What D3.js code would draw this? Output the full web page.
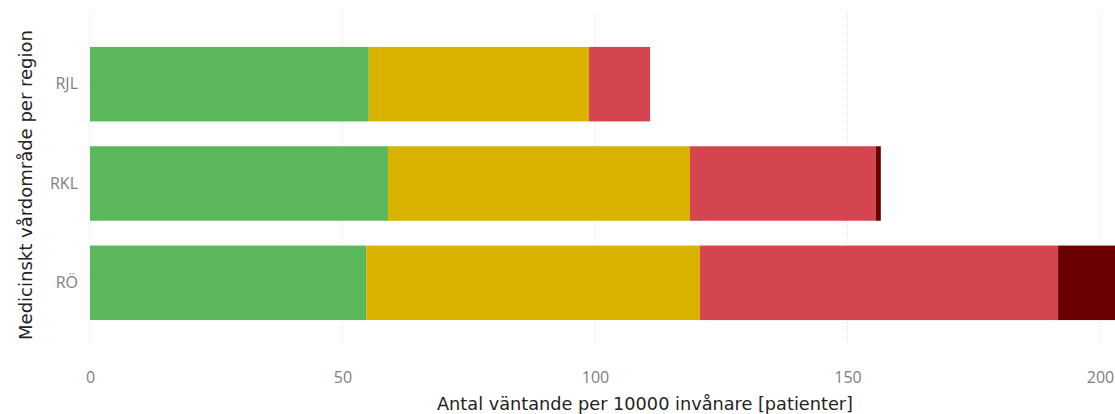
<!DOCTYPE html>
<html>
<head>
<meta charset="utf-8">
<script src="https://cdn.jsdelivr.net/npm/d3@7"></script>
<style>
  body { margin: 0; background: #fff; }
  svg { display: block; }
</style>
</head>
<body>
<svg id="chart" width="1115" height="414"></svg>
<script>
'use strict';

// data
var regions  = ["RJL", "RKL", "RÖ"];
var grupper  = ["inom", "nära", "över", "långt över"];
var inom     = [55.2, 59.0, 54.7];
var nara     = [43.6, 59.8, 66.1];
var over     = [12.1, 36.8, 70.9];
var langt    = [0,    1.0,  12.0];
var xTicks   = [0, 50, 100, 150, 200];
var colors   = ["#5bb75b", "#d9b300", "#d5454f", "#6b0000"];

var svg = d3.select("#chart");

var rows = regions.map(function(r, i) {
    return {region: r, inom: inom[i], "nära": nara[i], "över": over[i], "långt över": langt[i]};
});

var x = d3.scaleLinear().domain([0, 200]).range([90, 1100]);
var y = d3.scaleBand().domain(regions).range([37, 330]).paddingInner(0.25).paddingOuter(0.1);
var color = d3.scaleOrdinal().domain(grupper).range(colors);

// gridlines
svg.append("g").selectAll("line").data(xTicks).join("line")
    .attr("x1", function(d){return x(d)}).attr("x2", function(d){return x(d)})
    .attr("y1", 14).attr("y2", 346)
    .attr("stroke", "#d4d4d4").attr("stroke-width", 1)
    .attr("stroke-dasharray", "1,3");

// stacked bars
var stack = d3.stack().keys(grupper)(rows);
svg.append("g").selectAll("g").data(stack).join("g")
    .attr("fill", function(d){return color(d.key)})
    .selectAll("rect").data(function(d){return d}).join("rect")
        .attr("x", function(d){return x(d[0])})
        .attr("width", function(d){return x(d[1]) - x(d[0])})
        .attr("y", function(d){return y(d.data.region)})
        .attr("height", y.bandwidth());

// x axis
var xAxis = svg.append("g").attr("transform", "translate(0,369)")
    .call(d3.axisBottom(x).tickValues(xTicks).tickSize(0).tickPadding(0));
xAxis.select(".domain").remove();
xAxis.selectAll("text")
    .attr("fill", "#808080").attr("font-size", "16px")
    .attr("font-family", "'Open Sans', sans-serif").attr("dy", "0.9em");

// y axis
var yAxis = svg.append("g").attr("transform", "translate(78,0)")
    .call(d3.axisLeft(y).tickSize(0).tickPadding(0));
yAxis.select(".domain").remove();
yAxis.selectAll("text")
    .attr("fill", "#808080").attr("font-size", "16px")
    .attr("font-family", "'Open Sans', sans-serif");

// axis titles
svg.append("text")
    .attr("x", 645).attr("y", 410)
    .attr("text-anchor", "middle")
    .attr("fill", "#252423").attr("font-size", "18px")
    .attr("font-family", "'DejaVu Sans Condensed', 'Open Sans', sans-serif")
    .attr("textLength", 416).attr("lengthAdjust", "spacingAndGlyphs")
    .text("Antal väntande per 10000 invånare [patienter]");

svg.append("text")
    .attr("transform", "translate(32,185) rotate(-90)")
    .attr("text-anchor", "middle")
    .attr("fill", "#252423").attr("font-size", "18px")
    .attr("font-family", "'DejaVu Sans Condensed', 'Open Sans', sans-serif")
    .attr("textLength", 310).attr("lengthAdjust", "spacingAndGlyphs")
    .text("Medicinskt vårdområde per region");
</script>
</body>
</html>
